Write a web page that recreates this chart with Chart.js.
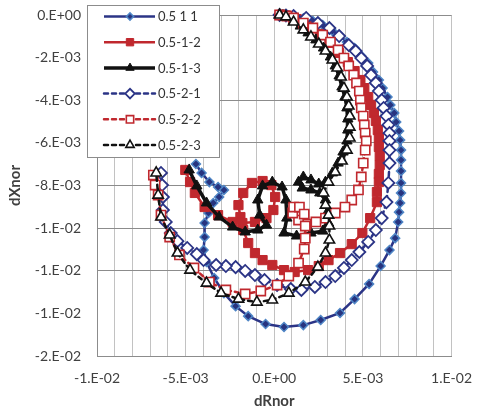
<!DOCTYPE html>
<html>
<head>
<meta charset="utf-8">
<script src="https://cdn.jsdelivr.net/npm/chart.js@4.4.1/dist/chart.umd.min.js"></script>
<style>
  html, body { margin: 0; padding: 0; background: #fff; }
  #wrap { width: 486px; height: 414px; }
</style>
</head>
<body>
<div id="wrap"><canvas id="chart" width="486" height="414"></canvas></div>
<script>
// series names (as shown in the legend)
const seriesNames = ['0.5 1 1', '0.5-1-2', '0.5-1-3', '0.5-2-1', '0.5-2-2', '0.5-2-3'];

// [dRnor, dXnor]
const pts511 = [[0.0003,0],[0.00055,-0.00002],[0.00082,-0.00004],[0.00109,-0.00008],[0.00164,-0.00016],[0.00218,-0.00028],[0.00273,-0.00047],[0.00328,-0.00075],[0.00371,-0.00099],[0.0041,-0.00127],[0.00453,-0.00155],[0.00491,-0.00192],[0.0053,-0.00225],[0.00557,-0.00267],[0.0059,-0.00305],[0.00611,-0.00343],[0.00639,-0.00385],[0.00655,-0.00422],[0.00677,-0.0046],[0.00688,-0.00502],[0.00704,-0.00544],[0.0071,-0.00587],[0.00715,-0.00634],[0.00715,-0.0068],[0.00715,-0.00732],[0.00715,-0.00788],[0.00715,-0.00835],[0.0071,-0.00882],[0.00704,-0.00925],[0.00699,-0.00971],[0.00682,-0.01047],[0.0065,-0.01103],[0.006,-0.01178],[0.00535,-0.01262],[0.00453,-0.01333],[0.00371,-0.01398],[0.00262,-0.01431],[0.00164,-0.01455],[0.00055,-0.01464],[-0.00049,-0.0145],[-0.00147,-0.01413],[-0.00218,-0.01366],[-0.00284,-0.01305],[-0.00339,-0.01234],[-0.00382,-0.01159],[-0.00399,-0.01103],[-0.00393,-0.01042],[-0.00393,-0.00976],[-0.00371,-0.00929],[-0.00344,-0.00882],[-0.00311,-0.00854],[-0.00284,-0.00821],[-0.00317,-0.00807],[-0.00366,-0.00784],[-0.0041,-0.00741],[-0.00442,-0.00699]];

const pts512 = [[0.00033,0],[0.00066,-0.00002],[0.00126,-0.00019],[0.00191,-0.00052],[0.00257,-0.00089],[0.00311,-0.00131],[0.00366,-0.00178],[0.00415,-0.00221],[0.00453,-0.00263],[0.00486,-0.00305],[0.00508,-0.00343],[0.0053,-0.00385],[0.00546,-0.00422],[0.00562,-0.0046],[0.00573,-0.00497],[0.00584,-0.0054],[0.0059,-0.00577],[0.0059,-0.00619],[0.00595,-0.00662],[0.00595,-0.00704],[0.0059,-0.00746],[0.0059,-0.00784],[0.00579,-0.00831],[0.00579,-0.00878],[0.00541,-0.00953],[0.00497,-0.01023],[0.00437,-0.01075],[0.00371,-0.01117],[0.00306,-0.0115],[0.00251,-0.01178],[0.00191,-0.01197],[0.00115,-0.01206],[0.00055,-0.01197],[-0.00011,-0.01173],[-0.00066,-0.0115],[-0.00109,-0.01117],[-0.00147,-0.0107],[-0.00175,-0.01009],[-0.00191,-0.00948],[-0.00202,-0.00892],[-0.00175,-0.00835],[-0.00126,-0.00788],[-0.00066,-0.00779],[-0.00016,-0.00798],[0.00005,-0.00854],[-0.00005,-0.00915],[-0.00044,-0.00953],[-0.00109,-0.00971],[-0.0018,-0.00976],[-0.00235,-0.00971],[-0.00317,-0.00939],[-0.00393,-0.00901],[-0.00448,-0.00835],[-0.00475,-0.00784],[-0.00502,-0.00727]];

const pts513 = [[0.00027,0],[0.00049,-0.00002],[0.00076,-0.00009],[0.00109,-0.00028],[0.00147,-0.00052],[0.00191,-0.00084],[0.00235,-0.00117],[0.00278,-0.00155],[0.00317,-0.00197],[0.00344,-0.00239],[0.00366,-0.00286],[0.00382,-0.00338],[0.00399,-0.00385],[0.0041,-0.00436],[0.00415,-0.00488],[0.00415,-0.0054],[0.0041,-0.00591],[0.00388,-0.00643],[0.0036,-0.00695],[0.00328,-0.00741],[0.00289,-0.00784],[0.00251,-0.00793],[0.00207,-0.00774],[0.00164,-0.0076],[0.00137,-0.00784],[0.00158,-0.00812],[0.00207,-0.00821],[0.00257,-0.00835],[0.00289,-0.00868],[0.003,-0.00925],[0.00306,-0.00976],[0.00273,-0.01014],[0.00207,-0.01023],[0.00126,-0.01037],[0.00055,-0.01023],[0.00071,-0.00953],[0.00066,-0.00868],[0.00044,-0.00807],[-0.00011,-0.00784],[-0.00066,-0.00802],[-0.00093,-0.00868],[-0.00082,-0.00939],[-0.00044,-0.00986],[-0.00093,-0.01009],[-0.00164,-0.01018],[-0.00235,-0.00995],[-0.00311,-0.00948],[-0.00382,-0.00882],[-0.00437,-0.00802],[-0.0048,-0.00727]];

const pts521 = [[0.0003,0],[0.00066,-0.00002],[0.00109,-0.00005],[0.0018,-0.00014],[0.00246,-0.00038],[0.00311,-0.00061],[0.00366,-0.00099],[0.0042,-0.00141],[0.00459,-0.00169],[0.00491,-0.00202],[0.00524,-0.00239],[0.00546,-0.00282],[0.00573,-0.00319],[0.0059,-0.00357],[0.00606,-0.00399],[0.00617,-0.00436],[0.00633,-0.00474],[0.00644,-0.00516],[0.0065,-0.00554],[0.0065,-0.00591],[0.0065,-0.00634],[0.0065,-0.00695],[0.00644,-0.00788],[0.00633,-0.00878],[0.00606,-0.00953],[0.00573,-0.01009],[0.0053,-0.01065],[0.0048,-0.01112],[0.00437,-0.0115],[0.00393,-0.01187],[0.00344,-0.01225],[0.00289,-0.01253],[0.00229,-0.01276],[0.00153,-0.0129],[0.00093,-0.01286],[0.00016,-0.01267],[-0.00055,-0.01244],[-0.00109,-0.0122],[-0.00164,-0.01201],[-0.00218,-0.01183],[-0.00273,-0.01178],[-0.00328,-0.01173],[-0.00399,-0.0115],[-0.00437,-0.01122],[-0.00491,-0.01093],[-0.00546,-0.01061],[-0.00584,-0.01023],[-0.00612,-0.00971],[-0.00628,-0.00915],[-0.00628,-0.00854],[-0.00633,-0.00798],[-0.00639,-0.00741]];

const pts522 = [[0.0003,0],[0.00071,-0.00005],[0.00109,-0.00014],[0.00164,-0.00038],[0.00218,-0.00061],[0.00273,-0.00094],[0.00317,-0.00127],[0.0036,-0.00164],[0.00393,-0.00202],[0.0042,-0.00239],[0.00448,-0.00282],[0.00464,-0.00319],[0.0048,-0.00357],[0.00486,-0.00399],[0.00491,-0.00436],[0.00502,-0.00474],[0.00508,-0.00516],[0.00513,-0.00554],[0.00519,-0.00591],[0.00513,-0.00634],[0.00502,-0.00695],[0.00491,-0.0076],[0.00475,-0.00821],[0.00437,-0.00868],[0.00399,-0.00901],[0.00344,-0.00929],[0.00289,-0.00953],[0.00235,-0.00971],[0.0018,-0.00981],[0.00137,-0.00962],[0.00104,-0.00929],[0.00109,-0.00901],[0.00142,-0.00901],[0.00169,-0.00934],[0.00175,-0.0099],[0.00175,-0.01047],[0.00169,-0.01098],[0.00137,-0.01164],[0.00082,-0.01225],[0.00016,-0.01267],[-0.00076,-0.01295],[-0.00164,-0.01309],[-0.00273,-0.0129],[-0.00366,-0.01253],[-0.00453,-0.01187],[-0.00535,-0.01126],[-0.0059,-0.01042],[-0.00639,-0.00939],[-0.00655,-0.00845],[-0.00672,-0.00798],[-0.00682,-0.00751]];

const pts523 = [[0.0003,0],[0.00066,-0.00009],[0.00109,-0.00033],[0.00164,-0.0007],[0.00207,-0.00103],[0.00251,-0.00136],[0.00289,-0.00169],[0.00328,-0.00211],[0.00355,-0.00249],[0.00377,-0.00291],[0.00393,-0.00343],[0.0041,-0.00385],[0.0042,-0.00427],[0.00426,-0.00474],[0.00426,-0.00526],[0.00426,-0.00577],[0.0041,-0.00634],[0.00382,-0.00685],[0.00344,-0.00737],[0.00306,-0.00784],[0.00278,-0.00835],[0.00289,-0.00892],[0.00306,-0.00939],[0.00311,-0.0099],[0.00311,-0.01056],[0.00289,-0.01117],[0.00246,-0.01183],[0.00175,-0.01253],[0.00082,-0.01305],[-0.00011,-0.01337],[-0.00098,-0.01347],[-0.00202,-0.01333],[-0.003,-0.01305],[-0.00382,-0.01258],[-0.00475,-0.01197],[-0.00546,-0.01117],[-0.0059,-0.01032],[-0.00639,-0.00948],[-0.00655,-0.00845],[-0.00666,-0.00741]];

const allPts = [pts511, pts512, pts513, pts521, pts522, pts523];

// axis limits / steps
const xMin = -0.01, xMax = 0.01, xStep = 0.001;
const yMin = -0.016, yMax = 0, yStep = 0.002;

const NAVY = '#2b3486';
const RED = '#c0282e';
const BLACK = '#111111';
const FONT = 'Lato, "Liberation Sans", sans-serif';

// Excel "0.E+00" style number format
function sci(v) {
  if (Math.abs(v) < 1e-12) return '0.E+00';
  let e = Math.floor(Math.log10(Math.abs(v)) + 1e-9);
  let m = Math.round(v / Math.pow(10, e));
  if (Math.abs(m) >= 10) { m = m / 10; e += 1; }
  return m + '.E' + (e < 0 ? '-' : '+') + String(Math.abs(e)).padStart(2, '0');
}

const styles = [
  { color: NAVY, width: 2.5, dash: [], pt: 'rectRot', r: 4.5, fill: '#27347f', edge: '#4f86c6', bw: 1.5 },
  { color: RED, width: 2.5, dash: [], pt: 'rect', r: 6.5, fill: RED, edge: RED, bw: 1 },
  { color: BLACK, width: 3.5, dash: [], pt: 'triangle', r: 6, fill: BLACK, edge: BLACK, bw: 1 },
  { color: NAVY, width: 2.5, dash: [4, 4], pt: 'rectRot', r: 6, fill: '#ffffff', edge: NAVY, bw: 1.8 },
  { color: RED, width: 2.5, dash: [4, 4], pt: 'rect', r: 6.5, fill: '#ffffff', edge: RED, bw: 1.6 },
  { color: BLACK, width: 2.5, dash: [4, 4], pt: 'triangle', r: 6, fill: '#ffffff', edge: BLACK, bw: 1.6 }
];

const datasets = allPts.map((pts, i) => {
  const s = styles[i];
  return {
    label: seriesNames[i],
    data: pts.map(p => ({ x: p[0], y: p[1] })),
    showLine: true,
    clip: false,
    borderColor: s.color,
    borderWidth: s.width,
    borderDash: s.dash,
    borderCapStyle: s.dash.length ? 'round' : 'butt',
    pointStyle: s.pt,
    pointRadius: s.r,
    pointBackgroundColor: s.fill,
    pointBorderColor: s.edge,
    pointBorderWidth: s.bw,
    order: 6 - i
  };
});

// boxed legend inside the plot, top left
const boxLegend = {
  id: 'boxLegend',
  afterDraw(chart) {
    const ctx = chart.ctx;
    ctx.save();
    ctx.fillStyle = '#ffffff';
    ctx.strokeStyle = '#8c8c8c';
    ctx.lineWidth = 1;
    ctx.fillRect(87.5, 5.5, 132, 152);
    ctx.strokeRect(87.5, 5.5, 132, 152);
    datasets.forEach((ds, i) => {
      const s = styles[i];
      const y = 16.5 + i * 25.7;
      ctx.beginPath();
      ctx.setLineDash(s.dash);
      ctx.lineCap = s.dash.length ? 'round' : 'butt';
      ctx.strokeStyle = s.color;
      ctx.lineWidth = s.width;
      ctx.moveTo(104, y);
      ctx.lineTo(155, y);
      ctx.stroke();
      ctx.setLineDash([]);
      ctx.fillStyle = s.fill;
      ctx.strokeStyle = s.edge;
      ctx.lineWidth = s.bw;
      Chart.helpers.drawPoint(ctx, { pointStyle: s.pt, radius: s.r * 0.8, borderWidth: s.bw, rotation: 0 }, 130, y);
      ctx.fillStyle = '#333333';
      ctx.font = '13px ' + FONT;
      ctx.textBaseline = 'middle';
      ctx.textAlign = 'left';
      ctx.fillText(seriesNames[i], 158, y + 0.5);
    });
    ctx.restore();
  }
};

new Chart(document.getElementById('chart'), {
  type: 'scatter',
  data: { datasets: datasets },
  plugins: [boxLegend],
  options: {
    responsive: false,
    animation: false,
    layout: { padding: { top: 15, right: 23, left: 0, bottom: 0 } },
    plugins: { legend: { display: false }, tooltip: { enabled: false } },
    scales: {
      x: {
        type: 'linear',
        min: xMin, max: xMax,
        afterFit: (scale) => { scale.height = 58; },
        ticks: {
          stepSize: xStep,
          autoSkip: false,
          maxRotation: 0,
          padding: 14,
          color: '#404040',
          font: { family: FONT, size: 14 },
          callback: (v) => (Math.round(v * 1000) % 5 === 0 ? sci(v) : '')
        },
        grid: { color: '#c2c2c2', lineWidth: 1, drawTicks: false },
        border: { color: '#8c8c8c', width: 1 },
        title: {
          display: true, text: 'dRnor', color: '#404040',
          font: { family: FONT, size: 15, weight: 'bold' },
          padding: { top: 0, bottom: 4 }
        }
      },
      y: {
        type: 'linear',
        min: yMin, max: yMax,
        afterFit: (scale) => {
          scale.width = 97;
          scale.paddingTop = 8;
          scale.paddingBottom = 8;
        },
        ticks: {
          stepSize: yStep,
          padding: 16,
          color: '#404040',
          font: { family: FONT, size: 14 },
          callback: (v) => sci(v)
        },
        grid: {
          drawTicks: false,
          lineWidth: 1,
          color: (c) => {
            const v = c.tick ? c.tick.value : 0;
            if (Math.abs(v + 0.002) < 1e-9 || Math.abs(v + 0.014) < 1e-9) return 'rgba(0,0,0,0)';
            return '#8c8c8c';
          }
        },
        border: { color: '#8c8c8c', width: 1 },
        title: {
          display: true, text: 'dXnor', color: '#404040',
          font: { family: FONT, size: 15, weight: 'bold' },
          padding: { top: 6, bottom: 0 }
        }
      }
    }
  }
});
</script>
</body>
</html>
